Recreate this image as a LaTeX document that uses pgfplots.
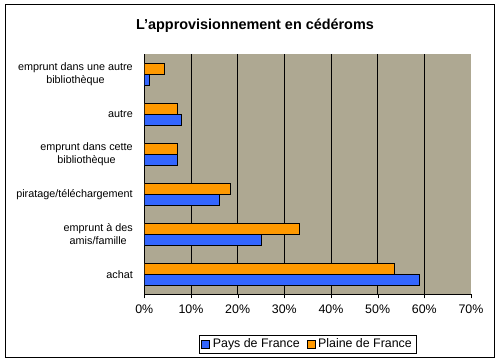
\documentclass[border=0pt]{standalone}
\usepackage{pgfplots}
\pgfplotsset{compat=1.18}
\usepackage{fontspec}
\setmainfont{Liberation Sans}
\definecolor{bgray}{RGB}{174,168,146}
\definecolor{pblue}{RGB}{51,102,255}
\definecolor{porange}{RGB}{255,153,0}
\begin{document}
\begin{tikzpicture}
\useasboundingbox (0pt,0pt) rectangle (500pt,362pt);
\draw[line width=1pt] (5pt,5pt) rectangle (494pt,357pt);
\node[font=\bfseries\fontsize{14.4}{16}\selectfont] at (255pt,336pt) {L'approvisionnement en cédéroms};
\begin{axis}[
  at={(144.3pt,67.7pt)}, anchor=south west,
  width=326.7pt, height=240pt, scale only axis,
  xmin=0, xmax=70, ymin=-0.5, ymax=5.5,
  axis lines=left, axis line style={-, black},
  axis background/.style={fill=bgray},
  xtick={0,10,...,70},
  xticklabel={\pgfmathprintnumber{\tick}\%},
  extra x ticks={10,20,...,60},
  extra x tick labels={},
  extra x tick style={grid=major, major tick length=0pt},
  major grid style={black, line width=0.8pt},
  ytick={0,...,5},
  yticklabels={achat, {emprunt à des\\amis/famille}, piratage/téléchargement, {emprunt dans cette\\bibliothèque}, autre, {emprunt dans une autre\\bibliothèque}},
  y tick style={draw=none},
  minor ytick={-0.5,0.5,...,5.5},
  minor y tick style={black},
  minor tick length=4pt,
  major tick length=4pt,
  tick align=outside,
  x tick style={black},
  /pgf/number format/assume math mode=true,
  yticklabel style={align=center, xshift=-4pt, font=\fontsize{10.8}{13.5}\selectfont},
  xticklabel style={yshift=-3pt, font=\fontsize{12.4}{14}\selectfont},
  xbar, bar width=11pt,
  legend columns=2,
  legend style={at={(0.5,-0.207)}, anchor=center, draw=black, font=\fontsize{12.4}{14}\selectfont,
    inner xsep=2pt, inner ysep=1.5pt,
    /tikz/every odd column/.append style={column sep=1pt},
    /tikz/every even column/.append style={column sep=5pt}},
  legend image code/.code={\draw[#1, draw=black] (0pt,-4pt) rectangle (8pt,4pt);},
]
\addplot[fill=pblue, draw=black, bar shift=-5.5pt] coordinates {(58.9,0) (25.1,1) (16.1,2) (7.1,3) (8.0,4) (1.1,5)};
\addplot[fill=porange, draw=black, bar shift=5.5pt] coordinates {(53.6,0) (33.2,1) (18.4,2) (7.1,3) (7.1,4) (4.3,5)};
\legend{Pays de France, Plaine de France}
\end{axis}
\end{tikzpicture}
\end{document}
